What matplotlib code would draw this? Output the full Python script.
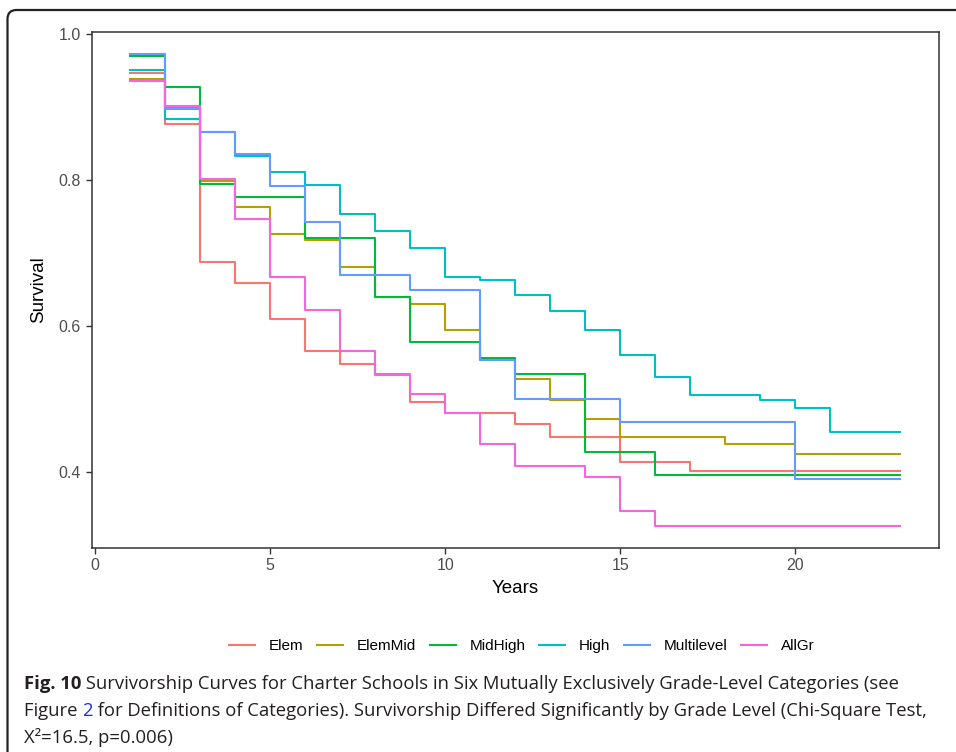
import matplotlib
matplotlib.use("Agg")
import matplotlib.pyplot as plt
from matplotlib.path import Path
from matplotlib.patches import PathPatch

# years at which each survival step starts (value holds until the next year)
years = list(range(1, 24))

groups = ["Elem", "ElemMid", "MidHigh", "High", "Multilevel", "AllGr"]
colors = ["#F8766D", "#B79F00", "#00BA38", "#00BFC4", "#619CFF", "#F564E3"]

elem = [0.946, 0.876, 0.687, 0.659, 0.609, 0.565, 0.548, 0.534, 0.495, 0.481,
        0.481, 0.465, 0.448, 0.448, 0.413, 0.413, 0.401, 0.401, 0.401, 0.401,
        0.401, 0.401, 0.401]
elem_mid = [0.938, 0.899, 0.798, 0.763, 0.726, 0.718, 0.680, 0.640, 0.630, 0.594,
            0.553, 0.527, 0.498, 0.472, 0.448, 0.448, 0.448, 0.438, 0.438, 0.424,
            0.424, 0.424, 0.424]
mid_high = [0.970, 0.928, 0.794, 0.777, 0.777, 0.720, 0.720, 0.640, 0.578, 0.578,
            0.556, 0.534, 0.534, 0.427, 0.427, 0.396, 0.396, 0.396, 0.396, 0.396,
            0.396, 0.396, 0.396]
high = [0.951, 0.884, 0.866, 0.833, 0.811, 0.793, 0.753, 0.730, 0.706, 0.667,
        0.663, 0.642, 0.621, 0.594, 0.560, 0.530, 0.505, 0.505, 0.498, 0.487,
        0.455, 0.455, 0.455]
multilevel = [0.972, 0.897, 0.866, 0.835, 0.791, 0.742, 0.669, 0.669, 0.649, 0.649,
              0.553, 0.500, 0.500, 0.500, 0.468, 0.468, 0.468, 0.468, 0.468, 0.390,
              0.390, 0.390, 0.390]
all_gr = [0.935, 0.901, 0.801, 0.746, 0.667, 0.622, 0.565, 0.532, 0.506, 0.481,
          0.438, 0.408, 0.408, 0.393, 0.346, 0.326, 0.326, 0.326, 0.326, 0.326,
          0.326, 0.326, 0.326]
series = [elem, elem_mid, mid_high, high, multilevel, all_gr]

W, H = 956, 752
fig = plt.figure(figsize=(W / 100, H / 100), dpi=100)

# overlay in pixel coords for the frame and caption
bg = fig.add_axes([0, 0, 1, 1])
bg.set_xlim(0, W)
bg.set_ylim(H, 0)
bg.axis("off")

r = 9
verts = [(7.5, H + 20), (7.5, 10 + r), (7.5, 10), (7.5 + r, 10), (W + 20, 10)]
codes = [Path.MOVETO, Path.LINETO, Path.CURVE3, Path.CURVE3, Path.LINETO]
bg.add_patch(PathPatch(Path(verts, codes), fill=False, edgecolor="#222222", lw=1.6))

# main plot
ax = fig.add_axes([92 / W, 1 - 548 / H, (939 - 92) / W, (548 - 32) / H])
for name, vals, c in zip(groups, series, colors):
    ax.step(years, vals, where="post", color=c, lw=1.5, label=name)

ax.set_xlim(-0.09, 24.11)
ax.set_ylim(0.2955, 1.0027)
ax.set_xticks([0, 5, 10, 15, 20])
ax.set_yticks([0.4, 0.6, 0.8, 1.0])
ax.set_yticklabels(["0.4", "0.6", "0.8", "1.0"])
for s in ax.spines.values():
    s.set_color("#333333")
    s.set_linewidth(1.1)
ax.tick_params(colors="#333333", labelcolor="#4D4D4D", labelsize=11.5, length=4.5, width=1.0)
ax.tick_params(axis="x", pad=3)
ax.set_xlabel("Years", fontsize=13.5, color="black", labelpad=5)
ax.set_ylabel("Survival", fontsize=13.5, color="black", labelpad=8)
for t in ax.get_xticklabels() + ax.get_yticklabels():
    t.set_family(["Liberation Sans", "DejaVu Sans"])
ax.xaxis.label.set_family(["Liberation Sans", "DejaVu Sans"])
ax.yaxis.label.set_family(["Liberation Sans", "DejaVu Sans"])

fig.legend(loc="center", bbox_to_anchor=(522 / W, 1 - 646 / H), ncol=6, frameon=False,
           handlelength=1.7, handletextpad=0.9, columnspacing=0.9,
           prop={"family": ["Liberation Sans", "DejaVu Sans"], "size": 11})

# caption
cap_font = ["Open Sans", "DejaVu Sans"]
cap_size = 13.3
cap_color = "#231F20"
renderer = fig.canvas.get_renderer()


def put(x, y, s, **kw):
    t = bg.text(x, y, s, fontsize=cap_size, family=cap_font, va="baseline", ha="left", **kw)
    bb = t.get_window_extent(renderer)
    return x + bb.width


x = put(24, 689, "Fig. 10", weight="bold", color=cap_color)
put(x, 689, " Survivorship Curves for Charter Schools in Six Mutually Exclusively "
            "Grade-Level Categories (see", color=cap_color)
x = put(24, 716, "Figure ", color=cap_color)
x = put(x, 716, "2", color="#1B2FD6")
put(x, 716, " for Definitions of Categories). Survivorship Differed Significantly by "
            "Grade Level (Chi-Square Test,", color=cap_color)
put(24, 743, "X\u00b2=16.5, p=0.006)", color=cap_color)

fig.savefig("out.png", dpi=100)
